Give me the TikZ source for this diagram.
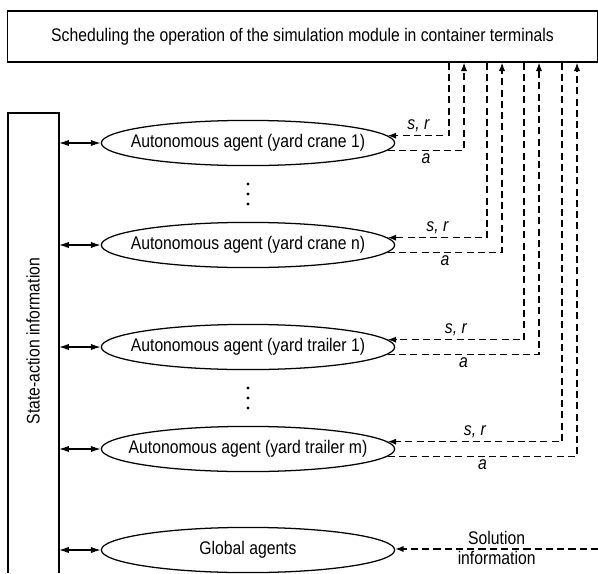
\documentclass[tikz,border=0pt]{standalone}
\usepackage{fontspec}
\setmainfont[FakeStretch=0.86]{Liberation Sans}
\usetikzlibrary{shapes.geometric,arrows.meta,positioning}
\tikzset{agent/.style={draw,ellipse,minimum width=7.33cm,minimum height=1.13cm,inner ysep=0pt,inner xsep=-40pt},
  flow/.style={dash pattern=on 5pt off 3pt,-{Latex[length=6pt,width=4.5pt]}},
  link/.style={{Latex[length=7pt,width=4.5pt]}-{Latex[length=7pt,width=4.5pt]}},
  flow label/.style={font=\fontsize{13}{15}\selectfont\itshape,inner sep=2pt}}

\begin{document}
\begin{tikzpicture}[x=0.025cm,y=-0.025cm,line width=0.9pt,font=\fontsize{13}{15}\selectfont]
	\useasboundingbox (0,0) rectangle (598,573);
	% top and left boxes
	\node[draw,minimum width=14.73cm,minimum height=1.275cm,inner sep=0pt] (sched) at (302.5,36.5)
		{Scheduling the operation of the simulation module in container terminals};
	\coordinate (sa) at (59,113);
	\draw (8,573) -- (8,113) -- (sa) -- (59,573);
	\node[rotate=90] (satext) at (33,341) {State-action information};
	% agents
	\node[agent] (ag1) at (248,143) {Autonomous agent (yard crane 1)};
	\node[agent] (ag2) at (248,245) {Autonomous agent (yard crane n)};
	\node[agent] (ag3) at (248,347) {Autonomous agent (yard trailer 1)};
	\node[agent] (ag4) at (248,449) {Autonomous agent (yard trailer m)};
	\node[agent] (ag5) at (248,550) {Global agents};
	\foreach \y in {184,194,204,388,398,408}
		\fill (248,\y) circle (1.1pt);
	\foreach \a in {ag1,ag2,ag3,ag4,ag5}
		\draw[link] (sa |- \a.west) -- (\a.west);
	% columns to the top box
	\coordinate (c1) at (449,0);
	\coordinate (c2) at (464,0);
	\coordinate (c3) at (487,0);
	\coordinate (c4) at (502,0);
	\coordinate (c5) at (524,0);
	\coordinate (c6) at (539,0);
	\coordinate (c7) at (562,0);
	\coordinate (c8) at (577,0);
	\draw[flow] (sched.south -| c1) |- (ag1.3) node[flow label,pos=0.75,above] {s, r};
	\draw[flow] (ag1.-3) -| (sched.south -| c2) node[flow label,pos=0.25,below] {a};
	\draw[flow] (sched.south -| c3) |- (ag2.3) node[flow label,pos=0.75,above] {s, r};
	\draw[flow] (ag2.-3) -| (sched.south -| c4) node[flow label,pos=0.25,below] {a};
	\draw[flow] (sched.south -| c5) |- (ag3.3) node[flow label,pos=0.75,above] {s, r};
	\draw[flow] (ag3.-3) -| (sched.south -| c6) node[flow label,pos=0.25,below] {a};
	\draw[flow] (sched.south -| c7) |- (ag4.3) node[flow label,pos=0.75,above] {s, r};
	\draw[flow] (ag4.-3) -| (sched.south -| c8) node[flow label,pos=0.25,below] {a};
	% solution information
	\coordinate (sol) at (598,549);
	\draw[flow] (sol) -- (ag5.east |- sol)
		node[pos=0.5,above,inner sep=2.5pt] {Solution}
		node[pos=0.5,below,inner sep=1.5pt] {information};
\end{tikzpicture}
\end{document}
